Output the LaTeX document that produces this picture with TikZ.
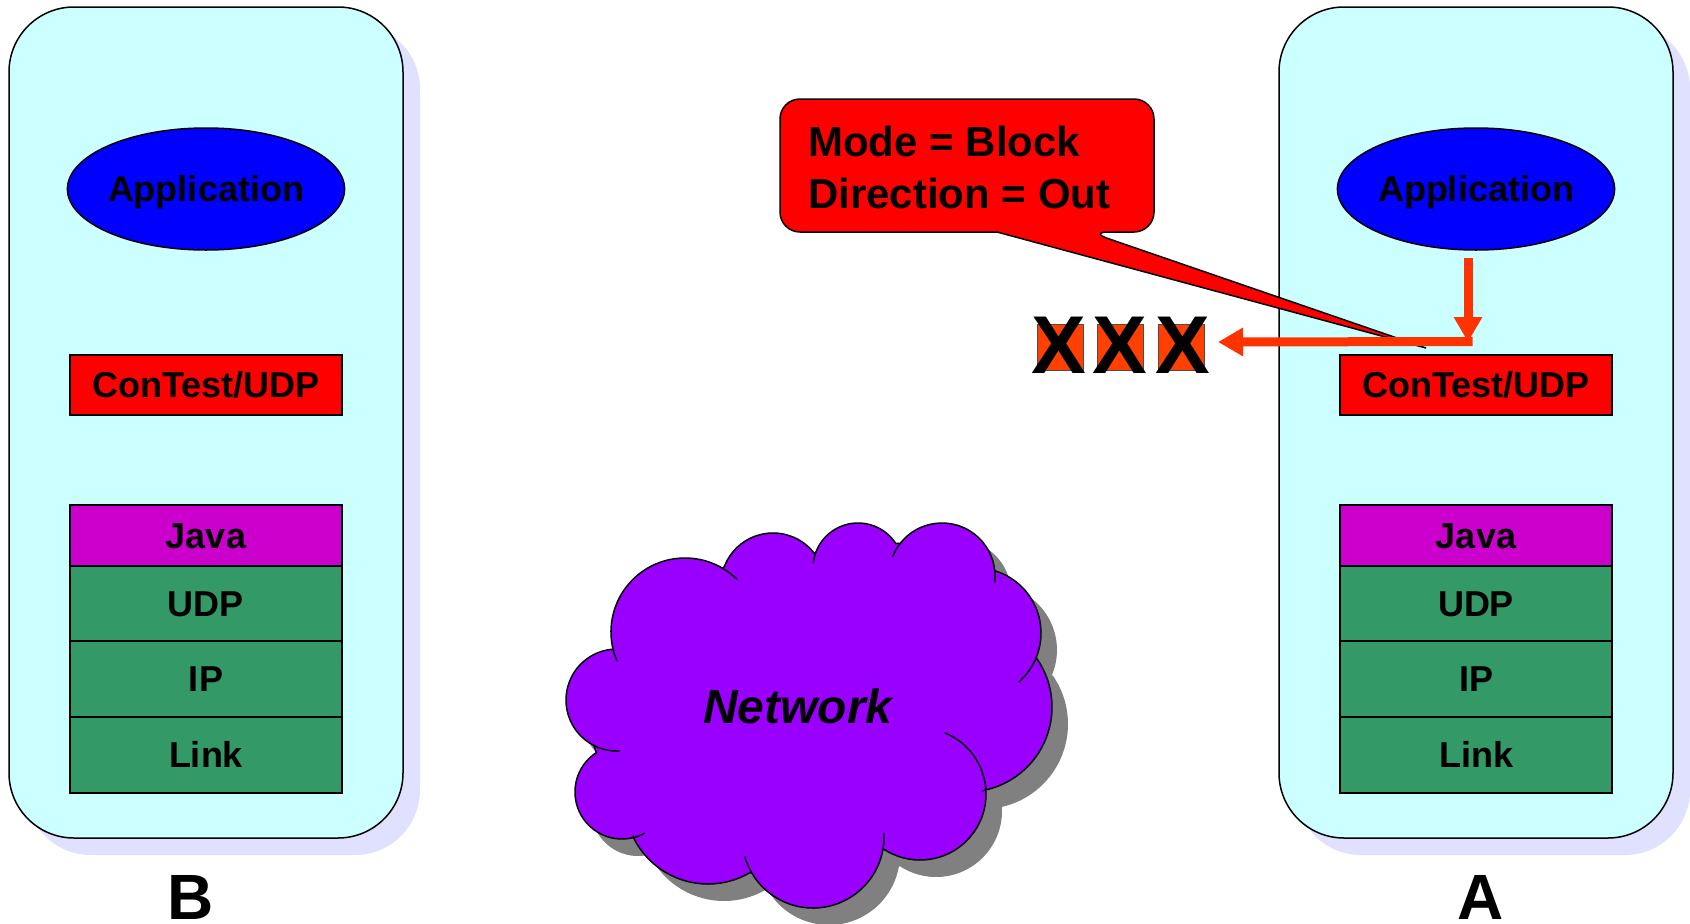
\documentclass[tikz,border=0pt]{standalone}
\usepackage{fontspec}
\setmainfont{Liberation Sans}
\usetikzlibrary{shapes.geometric,arrows.meta}
\definecolor{panelfill}{HTML}{CCFFFF}
\definecolor{panelshadow}{HTML}{E0E0FF}
\definecolor{appblue}{HTML}{0000FF}
\definecolor{ctred}{HTML}{FF0000}
\definecolor{javamag}{HTML}{CC00CC}
\definecolor{stackgreen}{HTML}{339966}
\definecolor{cloudpurple}{HTML}{9900FF}
\definecolor{cloudshadow}{HTML}{808080}
\definecolor{arrowred}{HTML}{FF3300}
\definecolor{sqred}{HTML}{FF4000}
\newcommand{\cloudshape}[1]{%
\path[#1] ([shift={(685,632)}]166:74) arc[start angle=166,end angle=301,radius=74]
 -- ([shift={(773,585)}]203:52) arc[start angle=203,end angle=323,radius=52]
 -- ([shift={(858,568)}]201:45) arc[start angle=201,end angle=327,radius=45]
 -- ([shift={(942,576)}]218:53) arc[start angle=218,end angle=355,radius=53]
 -- ([shift={(976,633)}]287:65) arc[start angle=287,end angle=385,radius=65]
 -- ([shift={(967,707)}]325:85) arc[start angle=325,end angle=438,radius=85]
 -- ([shift={(920,794)}]-4:66) arc[start angle=-4,end angle=123.5,radius=66]
 -- ([shift={(813,837)}]10.5:71) arc[start angle=10.5,end angle=150,radius=71]
 -- ([shift={(708,801)}]60:83) arc[start angle=60,end angle=154,radius=83]
 -- ([shift={(622,792)}]76:47) arc[start angle=76,end angle=237,radius=47]
 -- ([shift={(617,700)}]117:51) arc[start angle=117,end angle=264,radius=51]
 -- cycle;}
\begin{document}
\begin{tikzpicture}[x=1pt,y=-1pt,
  panel/.style={draw=black, line width=1.5pt, fill=panelfill, rounded corners=65pt},
  panelshade/.style={fill=panelshadow, rounded corners=65pt},
  layer/.style={draw=black, line width=1.5pt, minimum width=272pt, inner sep=0pt,
    text height=25.8pt, text depth=0pt,
    font=\fontsize{36}{43}\selectfont\bfseries},
  app/.style={ellipse, draw=black, line width=1.5pt, fill=appblue, minimum width=274pt,
    minimum height=122pt, inner sep=0pt, text height=25.8pt, text depth=0pt,
    font=\fontsize{36}{43}\selectfont\bfseries},
  hostlabel/.style={inner sep=0pt, font=\fontsize{64}{72}\selectfont\bfseries},
  tick/.style={draw=black, line width=1.5pt},
  flow/.style={draw=arrowred, line width=9pt, -{Triangle[length=25pt,width=27pt]}},
  sq/.style={draw=black!70, line width=1pt, fill=sqred, minimum width=46pt, minimum height=46pt, inner sep=0pt},
  xmark/.style={inner sep=0pt, font=\fontsize{82}{90}\selectfont\bfseries},
  callout/.style={draw=black, line width=1.5pt, fill=ctred}
]
\useasboundingbox (0,0) rectangle (1690,924);
\fill[white] (0,0) rectangle (1690,924);

% panel B
\fill[panelshade] (26,24) rectangle (420,855);
\draw[panel] (9,7) rectangle (403,838);
\node[app] (appB) at (206,189) {Application};
\node[layer, fill=ctred, minimum height=60pt] (ctB) at (206,385) {ConTest/UDP};
\node[layer, fill=javamag, minimum height=61pt] (javaB) at (206,535.5) {Java};
\node[layer, fill=stackgreen, minimum height=75pt] (udpB) at (206,603.5) {UDP};
\node[layer, fill=stackgreen, minimum height=76pt] (ipB) at (206,679) {IP};
\node[layer, fill=stackgreen, minimum height=76pt] (linkB) at (206,755) {Link};
\node[hostlabel] (labB) at (191,897) {B};

% panel A
\fill[panelshade] (1296,24) rectangle (1690,855);
\draw[panel] (1279,7) rectangle (1673,838);
\node[app] (appA) at (1476,189) {Application};
\node[layer, fill=ctred, minimum height=60pt] (ctA) at (1476,385) {ConTest/UDP};
\node[layer, fill=javamag, minimum height=61pt] (javaA) at (1476,535.5) {Java};
\node[layer, fill=stackgreen, minimum height=75pt] (udpA) at (1476,603.5) {UDP};
\node[layer, fill=stackgreen, minimum height=76pt] (ipA) at (1476,679) {IP};
\node[layer, fill=stackgreen, minimum height=76pt] (linkA) at (1476,755) {Link};
\node[hostlabel] (labA) at (1481,897) {A};

% cloud
\cloudshape{fill=cloudshadow, shift={(16,17)}}
\cloudshape{fill=cloudpurple, draw=black, line width=1.5pt}
\draw[tick] ([shift={(685,632)}]157:74) arc[start angle=157,end angle=166,radius=74];
\draw[tick] ([shift={(685,632)}]301:74) arc[start angle=301,end angle=315,radius=74];
\draw[tick] ([shift={(858,568)}]186:45) arc[start angle=186,end angle=201,radius=45];
\draw[tick] ([shift={(942,576)}]201:53) arc[start angle=201,end angle=218,radius=53];
\draw[tick] ([shift={(942,576)}]355:53) arc[start angle=355,end angle=367,radius=53];
\draw[tick] ([shift={(976,633)}]25:65) arc[start angle=25,end angle=49,radius=65];
\draw[tick] ([shift={(920,794)}]-68:66) arc[start angle=-68,end angle=-4,radius=66];
\draw[tick] ([shift={(813,837)}]-3:71) arc[start angle=-3,end angle=10.5,radius=71];
\draw[tick] ([shift={(813,837)}]150:71) arc[start angle=150,end angle=164,radius=71];
\draw[tick] ([shift={(622,792)}]61:47) arc[start angle=61,end angle=76,radius=47];
\draw[tick] ([shift={(617,700)}]87:51) arc[start angle=87,end angle=117,radius=51];
\node[inner sep=0pt, font=\fontsize{48}{56}\selectfont\bfseries\itshape] (net) at (798,706) {Network};

% callout
\draw[callout] (967,99) [rounded corners=20pt] -- (1154,99) -- (1154,232) -- (1089,232)
  [sharp corners] -- (1426,348) -- (997,232)
  [rounded corners=20pt] -- (780,232) -- (780,99) -- cycle;
\node[anchor=west, align=left, inner sep=0pt, font=\fontsize{42}{52}\selectfont\bfseries] (msg) at (808,167) {Mode = Block\\Direction = Out};

% blocked packets
\node[sq] (sq1) at (1060,347) {};
\node[sq] (sq2) at (1120.5,347) {};
\node[sq] (sq3) at (1181.5,347) {};
\node[xmark] (x1) at (1059,345) {X};
\node[xmark] (x2) at (1120,345) {X};
\node[xmark] (x3) at (1183,345) {X};

% arrows
\coordinate (dstart) at (1468,258);
\coordinate (turn) at (1468,342);
\coordinate (hstart) at (1472.5,341.5);
\coordinate (blockend) at (1218,342);
\draw[flow] (dstart) -- (turn);
\draw[flow] (hstart) -- (blockend);
\end{tikzpicture}
\end{document}
